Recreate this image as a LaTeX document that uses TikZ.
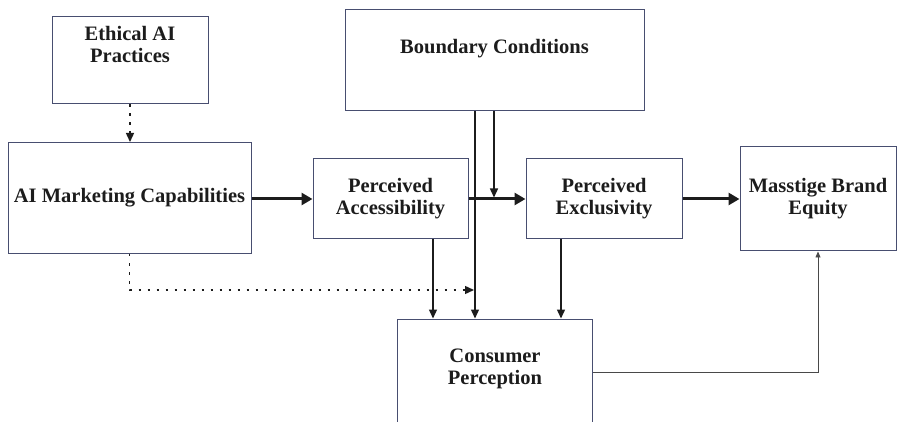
\documentclass[tikz,border=0pt]{standalone}
\usepackage{fontspec}
\setmainfont{Liberation Serif}
\usetikzlibrary{arrows.meta,positioning}

\definecolor{boxcol}{RGB}{72,78,112}
\definecolor{inkcol}{RGB}{28,28,28}

\begin{document}
\begin{tikzpicture}[x=1pt, y=-1pt,
    box/.style={draw=boxcol, line width=1pt, align=center, inner sep=0pt,
        text=inkcol, font=\bfseries\fontsize{20.5}{22}\selectfont},
    link/.style={draw=inkcol, line width=1.4pt, -{Triangle[length=9pt,width=8pt]}},
    mainlink/.style={draw=inkcol, line width=3pt, -{Triangle[length=11pt,width=12pt]}},
    modlink/.style={link, dash pattern=on 2.5pt off 6.5pt},
    feedlink/.style={draw=inkcol!80, line width=0.8pt, -{Triangle[length=6pt,width=5pt]}}]
    \useasboundingbox (0,0) rectangle (897,422);

    % Antecedents
    \node[box, minimum width=156pt, text height=46pt, text depth=41pt] (ethical) at (130,60.5) {Ethical AI\\Practices};
    \node[box, minimum width=243pt, minimum height=111pt] (aimc) at (129.5,198) {AI Marketing Capabilities};

    % Boundary conditions
    \node[box, minimum width=299pt, text height=44pt, text depth=57pt] (boundary) at (494.5,60.5) {Boundary Conditions};

    % Mediators
    \node[box, minimum width=155pt, minimum height=80pt] (access) at (390.5,199) {Perceived\\Accessibility};
    \node[box, minimum width=156pt, minimum height=80pt] (excl) at (604,199) {Perceived\\Exclusivity};

    % Outcome
    \node[box, minimum width=156pt, minimum height=104pt] (mbe) at (818,199) {Masstige Brand\\Equity};

    % Consumer perception (bottom edge runs off the page)
    \node[box, minimum width=195pt, text height=65pt, text depth=41pt] (consumer) at (495,372) {Consumer\\Perception};

    % x-positions of the vertical links
    \coordinate (pax) at (433,0);
    \coordinate (bcx) at (475,0);
    \coordinate (bmx) at (494,0);
    \coordinate (pex) at (561,0);
    \coordinate (modend) at (474,290);

    % Main path
    \draw[mainlink] (aimc.east |- access) -- (access);
    \draw[mainlink] (access) -- (excl);
    \draw[mainlink] (excl) -- (mbe);

    % Moderating links (dotted)
    \draw[modlink] (ethical.south) -- (ethical.south |- aimc.north);
    \draw[modlink] (aimc.south) |- (modend);

    % Boundary conditions
    \draw[link] (boundary.south -| bcx) -- (consumer.north -| bcx);
    \draw[link, shorten >=1.5pt] (boundary.south -| bmx) -- (bmx |- access.east);

    % Into consumer perception
    \draw[link] (access.south -| pax) -- (consumer.north -| pax);
    \draw[link] (excl.south -| pex) -- (consumer.north -| pex);

    % Feedback to brand equity
    \draw[feedlink] (consumer.east) -| (mbe.south);
\end{tikzpicture}
\end{document}
